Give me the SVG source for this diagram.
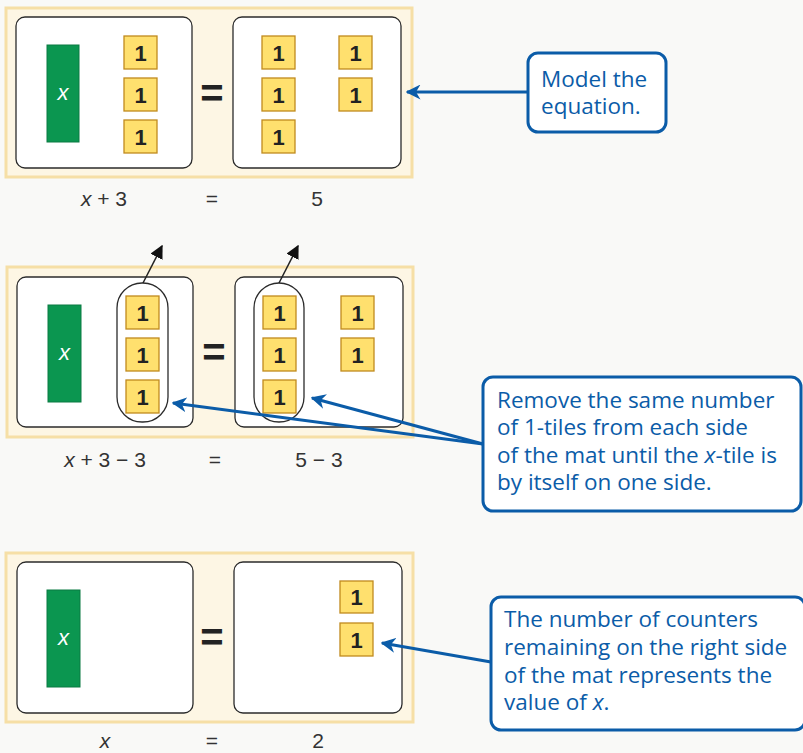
<svg xmlns="http://www.w3.org/2000/svg" width="803" height="753" viewBox="0 0 803 753">
<defs>
<style>
.panel{fill:#fdf6e4;stroke:#f6dfa6;stroke-width:3}
.mat{fill:#ffffff;stroke:#2b2b2b;stroke-width:1.3}
.xt{fill:#0b9650;stroke:#0a7a42;stroke-width:1}
.xl{fill:#ffffff;font-family:"Liberation Sans",Arial,sans-serif;font-style:italic;font-size:22px;text-anchor:middle}
.one{fill:#ffe06e;stroke:#c08a1e;stroke-width:1.3}
.ol{fill:#222;font-family:"Liberation Sans",Arial,sans-serif;font-weight:bold;font-size:22px;text-anchor:middle}
.eq{fill:#222;font-family:"Liberation Sans",Arial,sans-serif;font-weight:bold;font-size:40px;text-anchor:middle}
.lab{fill:#333;font-family:"Liberation Sans",Arial,sans-serif;font-size:21px;text-anchor:middle}
.cap{fill:none;stroke:#2b2b2b;stroke-width:1.3}
.cbox{fill:#ffffff;stroke:#0b5ca8;stroke-width:3}
.ct{fill:#0b5ca8;font-family:"Open Sans","Noto Sans",sans-serif;font-size:22.5px}
.bl{stroke:#0b5ca8;stroke-width:3;fill:none}
.kl{stroke:#222;stroke-width:1.5;fill:none}
</style>
<marker id="ab" viewBox="0 0 10 10" refX="9" refY="5" markerWidth="5" markerHeight="5" orient="auto" markerUnits="strokeWidth">
<path d="M0,0 L10,5 L0,10 L3,5 z" fill="#0b5ca8"/>
</marker>
<marker id="ak" viewBox="0 0 10 10" refX="9" refY="5" markerWidth="9" markerHeight="9" orient="auto" markerUnits="strokeWidth">
<path d="M0,0 L10,5 L0,10 z" fill="#111"/>
</marker>
</defs>
<rect width="803" height="753" fill="#f9f9f7"/>

<g id="panel1">
<rect class="panel" x="6" y="8" width="406" height="169"/>
<rect class="mat" x="16" y="17" width="176" height="151" rx="9"/>
<rect class="mat" x="233" y="17" width="168" height="151" rx="9"/>
<rect class="xt" x="47" y="45" width="32" height="97"/>
<text class="xl" x="63" y="100">x</text>
<rect class="one" x="124" y="36" width="33" height="33"/><text class="ol" x="140.5" y="60.5">1</text>
<rect class="one" x="124" y="78" width="33" height="33"/><text class="ol" x="140.5" y="102.5">1</text>
<rect class="one" x="124" y="120" width="33" height="33"/><text class="ol" x="140.5" y="144.5">1</text>
<rect class="one" x="262" y="36" width="33" height="33"/><text class="ol" x="278.5" y="60.5">1</text>
<rect class="one" x="262" y="78" width="33" height="33"/><text class="ol" x="278.5" y="102.5">1</text>
<rect class="one" x="262" y="120" width="33" height="33"/><text class="ol" x="278.5" y="144.5">1</text>
<rect class="one" x="339" y="36" width="33" height="33"/><text class="ol" x="355.5" y="60.5">1</text>
<rect class="one" x="339" y="78" width="33" height="33"/><text class="ol" x="355.5" y="102.5">1</text>
<text class="eq" x="212" y="107">=</text>
<text class="lab" x="104" y="206"><tspan font-style="italic">x</tspan> + 3</text>
<text class="lab" x="212" y="206">=</text>
<text class="lab" x="317" y="206">5</text>
</g>

<g id="panel2">
<rect class="panel" x="7" y="267" width="406" height="170"/>
<rect class="mat" x="17" y="277" width="176" height="150" rx="9"/>
<rect class="mat" x="235" y="277" width="168" height="150" rx="9"/>
<rect class="xt" x="48" y="305" width="33" height="97"/>
<text class="xl" x="64.5" y="360">x</text>
<rect class="cap" x="117" y="283" width="51" height="139" rx="25"/>
<rect class="cap" x="254" y="283" width="50" height="139" rx="25"/>
<rect class="one" x="126" y="296" width="33" height="33"/><text class="ol" x="142.5" y="320.5">1</text>
<rect class="one" x="126" y="338" width="33" height="33"/><text class="ol" x="142.5" y="362.5">1</text>
<rect class="one" x="126" y="380" width="33" height="33"/><text class="ol" x="142.5" y="404.5">1</text>
<rect class="one" x="263" y="296" width="33" height="33"/><text class="ol" x="279.5" y="320.5">1</text>
<rect class="one" x="263" y="338" width="33" height="33"/><text class="ol" x="279.5" y="362.5">1</text>
<rect class="one" x="263" y="380" width="33" height="33"/><text class="ol" x="279.5" y="404.5">1</text>
<rect class="one" x="341" y="296" width="33" height="33"/><text class="ol" x="357.5" y="320.5">1</text>
<rect class="one" x="341" y="338" width="33" height="33"/><text class="ol" x="357.5" y="362.5">1</text>
<text class="eq" x="214" y="366">=</text>
<text class="lab" x="105" y="467"><tspan font-style="italic">x</tspan> + 3 − 3</text>
<text class="lab" x="215" y="467">=</text>
<text class="lab" x="319" y="467">5 − 3</text>
</g>

<g id="panel3">
<rect class="panel" x="6" y="553" width="407" height="169"/>
<rect class="mat" x="17" y="562" width="176" height="151" rx="9"/>
<rect class="mat" x="234" y="562" width="168" height="151" rx="9"/>
<rect class="xt" x="47" y="590" width="33" height="97"/>
<text class="xl" x="63.5" y="645">x</text>
<rect class="one" x="340" y="581" width="33" height="32"/><text class="ol" x="356.5" y="605">1</text>
<rect class="one" x="340" y="623" width="33" height="33"/><text class="ol" x="356.5" y="647.5">1</text>
<text class="eq" x="212" y="651">=</text>
<text class="lab" x="105" y="748" font-style="italic">x</text>
<text class="lab" x="212" y="748">=</text>
<text class="lab" x="318" y="748">2</text>
</g>

<g id="callout1">
<rect class="cbox" x="528" y="53" width="138" height="79" rx="10"/>
<text class="ct" x="541" y="87">Model the</text>
<text class="ct" x="541" y="114">equation.</text>
</g>

<g id="callout2">
<rect class="cbox" x="483" y="377" width="318" height="134" rx="10"/>
<text class="ct" x="497" y="408">Remove the same number</text>
<text class="ct" x="497" y="435">of 1-tiles from each side</text>
<text class="ct" x="497" y="463">of the mat until the <tspan font-style="italic">x</tspan>-tile is</text>
<text class="ct" x="497" y="490">by itself on one side.</text>
</g>

<g id="callout3">
<rect class="cbox" x="491" y="597" width="314" height="133" rx="10"/>
<text class="ct" x="504" y="627">The number of counters</text>
<text class="ct" x="504" y="655">remaining on the right side</text>
<text class="ct" x="504" y="683">of the mat represents the</text>
<text class="ct" x="504" y="710">value of <tspan font-style="italic">x</tspan>.</text>
</g>

<g id="connectors">
<line class="bl" x1="528" y1="92" x2="407" y2="92" marker-end="url(#ab)"/>
<line class="bl" x1="483" y1="444" x2="173" y2="403" marker-end="url(#ab)"/>
<line class="bl" x1="483" y1="444" x2="312" y2="398" marker-end="url(#ab)"/>
<line class="bl" x1="491" y1="662" x2="382" y2="643" marker-end="url(#ab)"/>
<line class="kl" x1="143" y1="283" x2="162" y2="246" marker-end="url(#ak)"/>
<line class="kl" x1="279" y1="283" x2="298" y2="246" marker-end="url(#ak)"/>
</g>
</svg>
